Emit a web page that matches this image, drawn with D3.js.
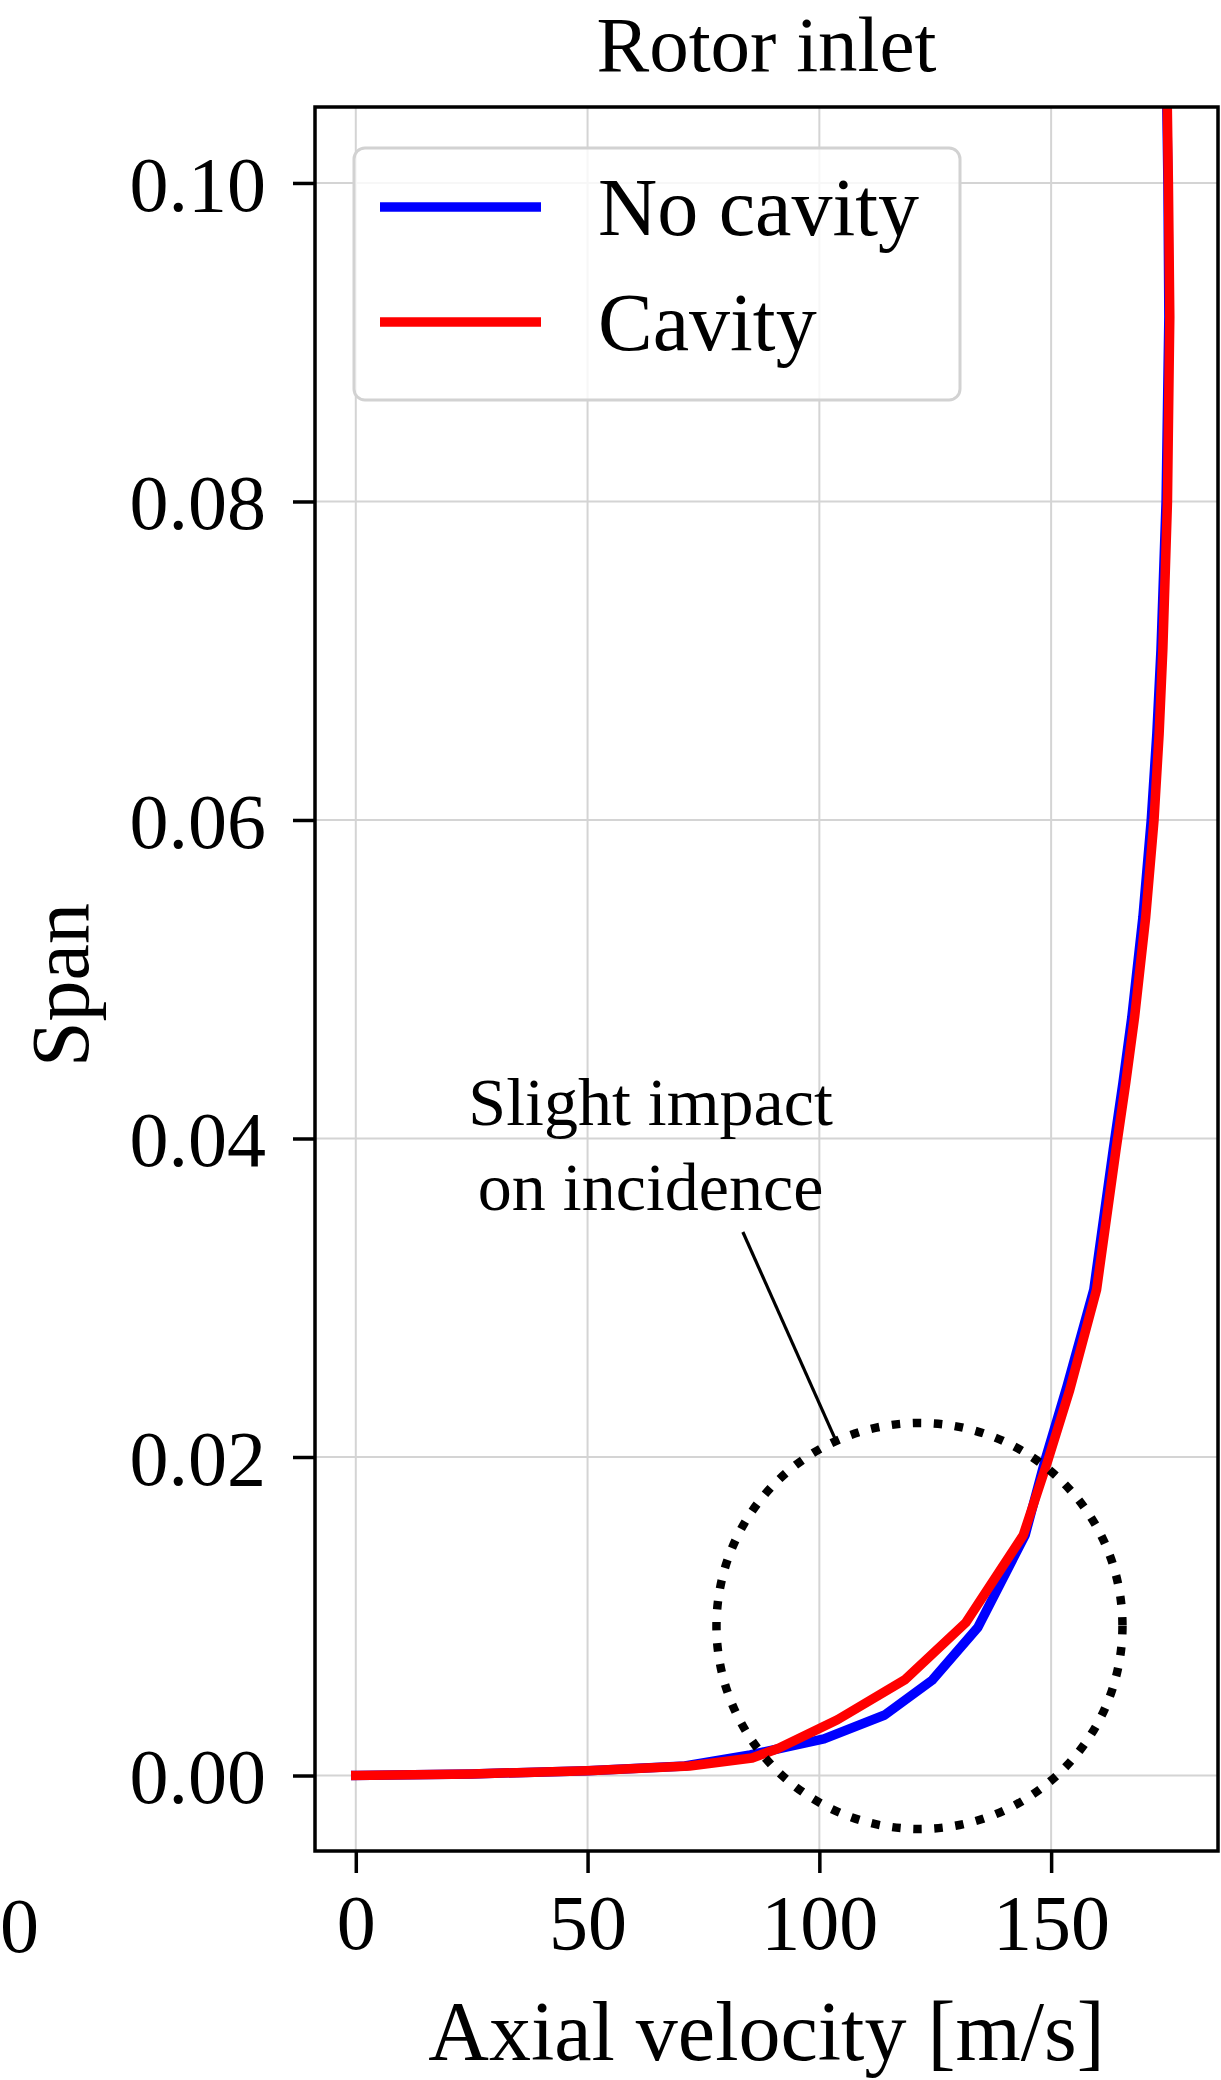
<!DOCTYPE html>
<html>
<head>
<meta charset="utf-8">
<script src="https://cdn.jsdelivr.net/npm/d3@7"></script>
<style>
  html, body { margin: 0; padding: 0; background: #fff; }
  svg { display: block; }
  text { font-family: "Liberation Serif", "DejaVu Serif", serif; fill: #000; }
</style>
</head>
<body>
<svg id="chart" width="1221" height="2080"></svg>
<script>
// Axial velocity profiles near the hub at the rotor inlet
const spanNoCavity = [0, 0.0001, 0.0003, 0.0006, 0.0013, 0.0023, 0.0038, 0.006, 0.0093, 0.0151, 0.0198, 0.0244, 0.0305, 0.0393, 0.0435, 0.0476, 0.0539, 0.06, 0.0654, 0.0707, 0.08, 0.0916, 0.1, 0.106];
const velNoCavity  = [0, 25, 50, 71, 85.1, 101, 114.1, 124.4, 134.2, 144.4, 148.7, 153.4, 159.2, 163.4, 165.5, 167.4, 169.8, 171.6, 172.8, 173.7, 174.8, 175.4, 175.2, 174.9];

const spanCavity = [0, 0.0001, 0.0003, 0.0006, 0.0011, 0.0017, 0.0035, 0.006, 0.0096, 0.0151, 0.0196, 0.0242, 0.0305, 0.0393, 0.0435, 0.0476, 0.0539, 0.06, 0.0654, 0.0707, 0.08, 0.0916, 0.1, 0.106];
const velCavity  = [0, 25, 50, 72, 85.5, 91.1, 103.9, 118.4, 131.6, 144, 149.1, 154.0, 159.8, 164.0, 166.1, 168.0, 170.4, 172.2, 173.3, 174.1, 175.1, 175.6, 175.3, 175.0];

const seriesNames  = ["No cavity", "Cavity"];
const seriesColors = ["#0000ff", "#ff0000"];

const xTicks = [0, 50, 100, 150];
const yTicks = [0, 0.02, 0.04, 0.06, 0.08, 0.10];

// highlighted region and its note
const noteLines  = ["Slight impact", "on incidence"];
const noteAnchor = { x: 63.6, y: [0.04085, 0.0355] };
const noteArrow  = { from: [83.5, 0.03413], to: [103.5, 0.02107] };
const ringCenter = [121.6, 0.00939];

const svg = d3.select("#chart");
const L = 315, R = 1218, T = 107, B = 1851;
const FS = 82;      // labels, legend
const TICK_FS = 78; // tick labels

const x = d3.scaleLinear().domain([-8.8, 186]).range([L, R]);
const y = d3.scaleLinear().domain([-0.00474, 0.10477]).range([B, T]);

// grid
const grid = svg.append("g");
grid.selectAll("line.vx").data(xTicks).join("line")
  .attr("x1", d => x(d)).attr("x2", d => x(d)).attr("y1", T).attr("y2", B)
  .attr("stroke", "#d4d4d4").attr("stroke-width", 2);
grid.selectAll("line.hy").data(yTicks).join("line")
  .attr("y1", d => y(d)).attr("y2", d => y(d)).attr("x1", L).attr("x2", R)
  .attr("stroke", "#d4d4d4").attr("stroke-width", 2);

// curves
svg.append("clipPath").attr("id", "plotClip").append("rect")
  .attr("x", L).attr("y", T).attr("width", R - L).attr("height", B - T);

const series = [
  spanNoCavity.map((s, i) => ({ s, v: velNoCavity[i] })),
  spanCavity.map((s, i) => ({ s, v: velCavity[i] }))
];
const line = d3.line().x(d => x(d.v)).y(d => y(d.s));
svg.append("g").attr("clip-path", "url(#plotClip)")
  .selectAll("path").data(series).join("path")
  .attr("d", line).attr("fill", "none")
  .attr("stroke", (d, i) => seriesColors[i])
  .attr("stroke-width", 9.5).attr("stroke-linejoin", "round").attr("stroke-linecap", "square");

// dotted ring around the hub region
svg.append("circle")
  .attr("cx", x(ringCenter[0])).attr("cy", y(ringCenter[1])).attr("r", 203)
  .attr("fill", "none").attr("stroke", "#000").attr("stroke-width", 8.5)
  .attr("stroke-dasharray", "8.5 12.6");

// note and leader line
svg.append("line")
  .attr("x1", x(noteArrow.from[0])).attr("y1", y(noteArrow.from[1]))
  .attr("x2", x(noteArrow.to[0])).attr("y2", y(noteArrow.to[1]))
  .attr("stroke", "#000").attr("stroke-width", 3.2);
svg.selectAll("text.note").data(noteLines).join("text")
  .attr("class", "note")
  .attr("x", x(noteAnchor.x)).attr("y", (d, i) => y(noteAnchor.y[i]))
  .attr("text-anchor", "middle").attr("font-size", 68).text(d => d);

// axes
const xAxis = svg.append("g").attr("transform", `translate(0,${B})`)
  .call(d3.axisBottom(x).tickValues(xTicks).tickFormat(d3.format("d")).tickSize(22).tickPadding(18));
const yAxis = svg.append("g").attr("transform", `translate(${L},0)`)
  .call(d3.axisLeft(y).tickValues(yTicks).tickFormat(d3.format(".2f")).tickSize(22).tickPadding(27));
[xAxis, yAxis].forEach(g => {
  g.select(".domain").remove();
  g.selectAll(".tick line").attr("stroke", "#000").attr("stroke-width", 3.5);
  g.selectAll(".tick text").attr("font-size", TICK_FS).attr("font-family", "Liberation Serif");
});
xAxis.selectAll(".tick text").attr("dy", "0.74em");
yAxis.selectAll(".tick text").attr("dy", "0.35em");

// frame
svg.append("rect").attr("x", L).attr("y", T).attr("width", R - L).attr("height", B - T)
  .attr("fill", "none").attr("stroke", "#000").attr("stroke-width", 3.5);

// legend
const lg = svg.append("g");
lg.append("rect").attr("x", 354).attr("y", 148).attr("width", 606).attr("height", 252)
  .attr("rx", 11).attr("fill", "#fff").attr("fill-opacity", 0.8)
  .attr("stroke", "#d2d2d2").attr("stroke-width", 3);
seriesNames.forEach((name, i) => {
  const cy = 207 + i * 115;
  lg.append("line").attr("x1", 380).attr("x2", 541).attr("y1", cy).attr("y2", cy)
    .attr("stroke", seriesColors[i]).attr("stroke-width", 9.5);
  lg.append("text").attr("x", 598).attr("y", cy + 28).attr("font-size", FS).text(name);
});

// titles
svg.append("text").attr("x", (L + R) / 2).attr("y", 71).attr("text-anchor", "middle")
  .attr("font-size", 79).text("Rotor inlet");
svg.append("text").attr("x", (L + R) / 2).attr("y", 2060).attr("text-anchor", "middle")
  .attr("font-size", 84).text("Axial velocity [m/s]");
svg.append("text").attr("transform", "translate(88,985) rotate(-90)").attr("text-anchor", "middle")
  .attr("font-size", FS).text("Span");

// trailing tick label of the neighbouring panel
svg.append("text").attr("x", 0).attr("y", 1952).attr("font-size", TICK_FS).text("0");
</script>
</body>
</html>
